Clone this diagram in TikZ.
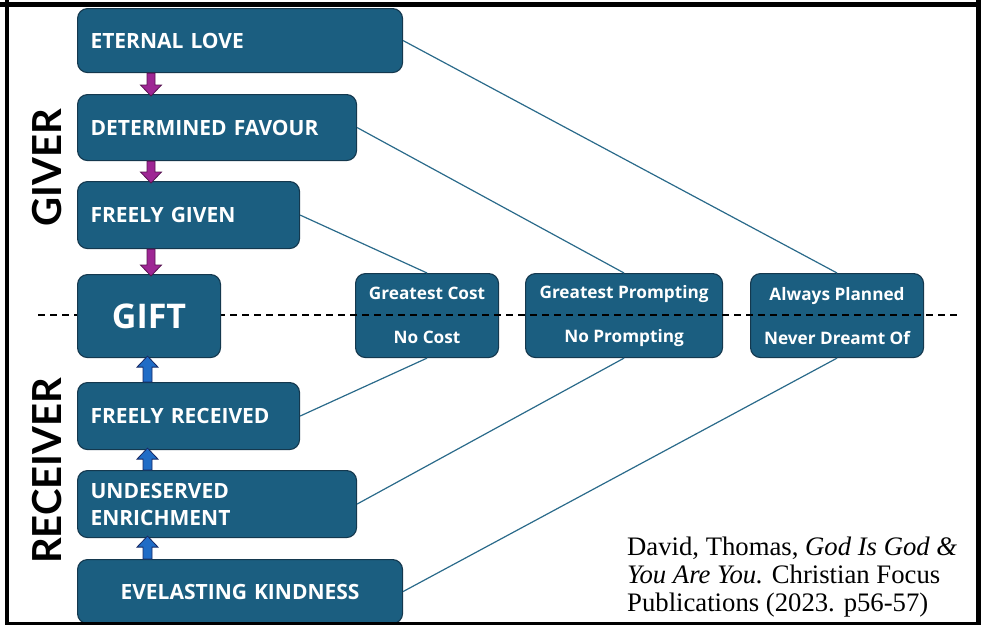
\documentclass[tikz,border=0pt]{standalone}
\usepackage{fontspec}
\setmainfont{Lato}
\newfontfamily\boxfont{Open Sans}
\newfontfamily\citefont{Liberation Serif}
\usetikzlibrary{calc}
\definecolor{boxfill}{RGB}{27,94,128}
\definecolor{boxline}{RGB}{20,56,78}
\definecolor{connc}{RGB}{42,106,138}
\definecolor{purf}{RGB}{158,38,148}
\definecolor{purl}{RGB}{88,20,82}
\definecolor{bluf}{RGB}{32,108,198}
\definecolor{blul}{RGB}{22,40,100}
\begin{document}
\begin{tikzpicture}[x=1pt,y=-1pt,
  box/.style={draw=boxline, line width=1.1pt, fill=boxfill, rounded corners=10pt,
    anchor=north west, text=white, inner xsep=13pt, inner ysep=0pt, align=left,
    font=\boxfont\bfseries\fontsize{21}{27}\selectfont},
  rbox/.style={draw=boxline, line width=1.1pt, fill=boxfill, rounded corners=10pt,
    anchor=north west, text=white, inner sep=0pt, align=center,
    font=\boxfont\bfseries\fontsize{17.2}{44}\selectfont, minimum height=84pt},
  conn/.style={draw=connc, line width=1.2pt},
  dashline/.style={draw=black, line width=1.4pt, dash pattern=on 7pt off 5pt},
  sidelabel/.style={rotate=90, font=\bfseries\fontsize{40}{40}\selectfont, inner sep=0pt},
  frameline/.style={draw=black},
  downarr/.style={draw=purl, fill=purf, line width=0.8pt, to path={
    let \p1=(\tikztostart), \p2=(\tikztotarget) in
    (\x1-4pt,\y1) -- (\x1+4pt,\y1) -- (\x1+4pt,\y2+11pt) -- (\x1+10.5pt,\y2+11pt)
    -- (\x1,\y2) -- (\x1-10.5pt,\y2+11pt) -- (\x1-4pt,\y2+11pt) -- cycle}},
  uparr/.style={draw=blul, fill=bluf, line width=0.8pt, to path={
    let \p1=(\tikztostart), \p2=(\tikztotarget) in
    (\x1-4.5pt,\y1) -- (\x1+4.5pt,\y1) -- (\x1+4.5pt,\y2-11pt) -- (\x1+10.5pt,\y2-11pt)
    -- (\x1,\y2) -- (\x1-10.5pt,\y2-11pt) -- (\x1-4.5pt,\y2-11pt) -- cycle}}
]
\useasboundingbox (0,0) rectangle (982,625);

% right boxes
\node[rbox, minimum width=143pt] (gc) at (355,273) {Greatest Cost\\No Cost};
\node[rbox, minimum width=197pt] (gp) at (525,273) {Greatest Prompting\\No Prompting};
\node[rbox, minimum width=173pt] (ap) at (750,273) {Always Planned\\Never Dreamt Of};

% dashed divider
\coordinate (dl) at (38,315);
\coordinate (dr) at (960,315);
\draw[dashline] (dl) -- (dr);

% left boxes
\node[box, minimum width=325pt, text width=299pt, minimum height=64pt] (el) at (77,8) {ETERNAL LOVE};
\node[box, minimum width=279pt, text width=253pt, minimum height=66pt] (df) at (77,94) {DETERMINED FAVOUR};
\node[box, minimum width=222pt, text width=196pt, minimum height=67pt] (fg) at (77,181) {FREELY GIVEN};
\node[box, minimum width=143pt, text width=117pt, minimum height=83pt, align=center,
      font=\boxfont\bfseries\fontsize{34}{40}\selectfont] (gift) at (77,274) {GIFT};
\node[box, minimum width=222pt, text width=196pt, minimum height=67pt] (fr) at (77,382) {FREELY RECEIVED};
\node[box, minimum width=279pt, text width=253pt, minimum height=67pt] (ue) at (77,470) {UNDESERVED\\ENRICHMENT};
\node[box, minimum width=325pt, text width=299pt, minimum height=64pt, align=center] (ek) at (77,559) {EVELASTING KINDNESS};

% connectors
\draw[conn] (el.east) -- (ap.north);
\draw[conn] (df.east) -- (gp.north);
\draw[conn] (fg.east) -- (gc.north);
\draw[conn] (gc.south) -- (fr.east);
\draw[conn] (gp.south) -- (ue.east);
\draw[conn] (ap.south) -- (ek.east);

% block arrows
\path[downarr] ([xshift=74pt]el.south west) to ([xshift=74pt,yshift=-2pt]df.north west);
\path[downarr] ([xshift=74pt]df.south west) to ([xshift=74pt,yshift=-2pt]fg.north west);
\path[downarr] ([xshift=74pt]fg.south west) to ([xshift=74pt,yshift=-2pt]gift.north west);
\path[uparr] ([xshift=70.5pt]fr.north west) to ([xshift=70.5pt,yshift=2pt]gift.south west);
\path[uparr] ([xshift=70.5pt]ue.north west) to ([xshift=70.5pt,yshift=2pt]fr.south west);
\path[uparr] ([xshift=70.5pt]ek.north west) to ([xshift=70.5pt,yshift=2pt]ue.south west);

% side labels
\node[sidelabel] (giver) at (47,168) {GIVER};
\node[sidelabel] (receiver) at (47,471) {RECEIVER};

% citation
\node[anchor=north west, align=left, inner sep=0pt,
      font=\citefont\fontsize{26.7}{28}\selectfont] (cite) at (627,537)
  {David, Thomas, \textit{God Is God \&}\\\textit{You Are You.} Christian Focus\\Publications (2023. p56-57)};

% frame
\coordinate (tl) at (0,4.5);
\coordinate (tr) at (980,4.5);
\draw[frameline, line width=5pt] (tl) -- (tr);
\coordinate (lt) at (7,0);
\coordinate (lb) at (7,625);
\draw[frameline, line width=4pt] (lt) -- (lb);
\coordinate (rt) at (978,0);
\coordinate (rb) at (978,625);
\draw[frameline, line width=5pt] (rt) -- (rb);
\coordinate (bl) at (7,623.5);
\coordinate (br) at (978,623.5);
\draw[frameline, line width=2.5pt] (bl) -- (br);
\end{tikzpicture}
\end{document}
